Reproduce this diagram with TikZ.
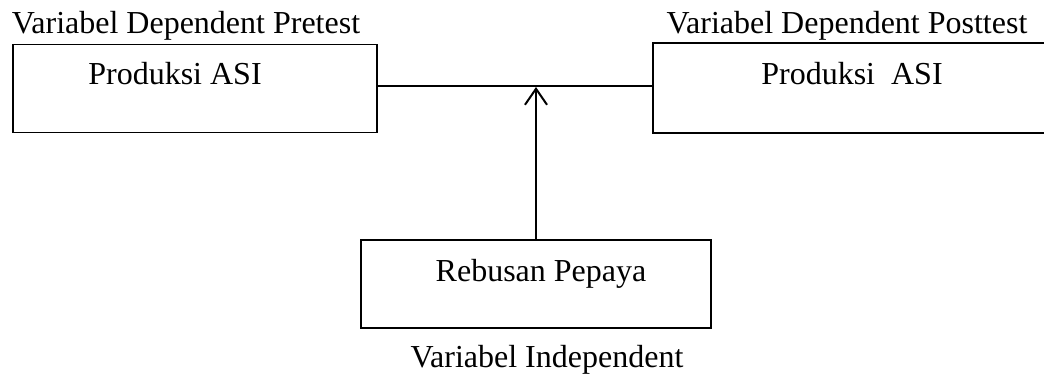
\documentclass[tikz,border=0pt]{standalone}
\usepackage{fontspec}
\setmainfont{Liberation Serif}
\usetikzlibrary{arrows.meta}
\begin{document}
\begin{tikzpicture}[x=1pt,y=-1pt,
  box/.style={draw,line width=1.6pt,rectangle,inner sep=0pt},
  lbl/.style={anchor=base,inner sep=0pt,font=\fontsize{32}{38}\selectfont},
  conn/.style={line width=1.6pt}]
\useasboundingbox (0,0) rectangle (1044,373);
\begin{scope}
\clip (0,0) rectangle (1044,373);
\node[box,minimum width=364pt,minimum height=88pt] (lbox) at (195,88.5) {};
\node[box,minimum width=420pt,minimum height=90pt] (rbox) at (863,88) {};
\node[box,minimum width=350pt,minimum height=88pt] (bbox) at (536,284) {};
\end{scope}
\node[lbl] (ltitle) at (186,33) {Variabel Dependent Pretest};
\node[lbl] (rtitle) at (847,33) {Variabel Dependent Posttest};
\node[lbl] (ltext) at (175,84) {Produksi ASI};
\node[lbl] (rtext) at (852,84) {Produksi\ \ ASI};
\node[lbl] (btext) at (541,281) {Rebusan Pepaya};
\node[lbl] (btitle) at (547,367) {Variabel Independent};
\draw[conn] (lbox.east |- 0,86) -- (rbox.west |- 0,86);
\coordinate (meet) at (bbox.north |- 0,87);
\draw[line width=2.2pt,-{Straight Barb[length=16pt,width=22pt,line width=2pt]}] (bbox.north) -- (meet);
\end{tikzpicture}
\end{document}
